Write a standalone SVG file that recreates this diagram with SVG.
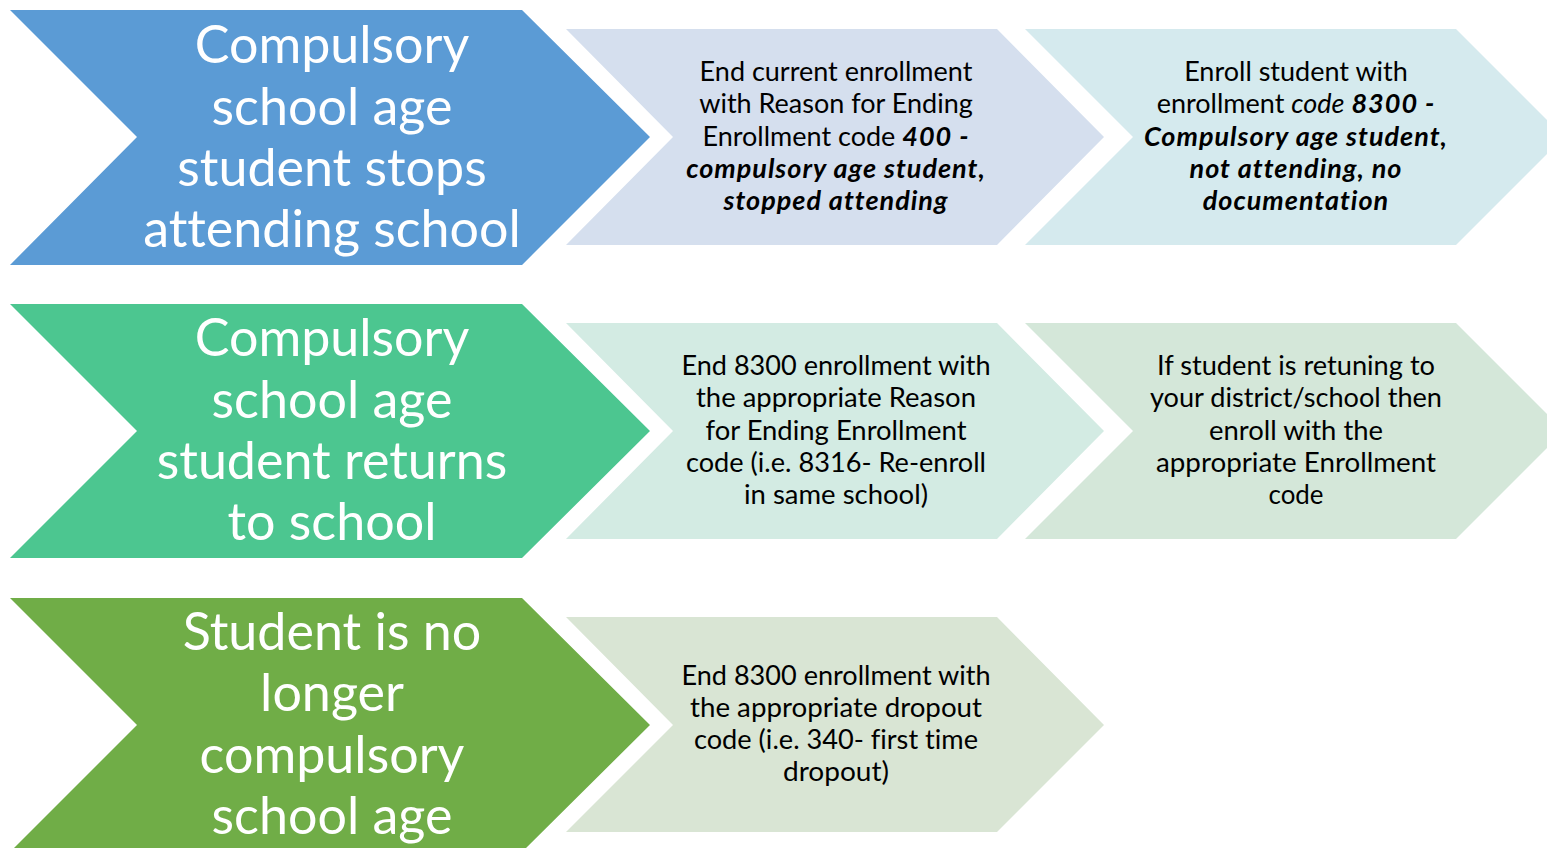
<svg xmlns="http://www.w3.org/2000/svg" width="1547" height="848" viewBox="0 0 1547 848">
<style>
text{font-variant-ligatures:none}
.big{font-family:Lato,"Open Sans","Liberation Sans",sans-serif;font-size:52px;fill:#ffffff;text-anchor:middle}
.sm{font-family:Lato,"Open Sans","Liberation Sans",sans-serif;font-size:27px;fill:#000000;text-anchor:middle}
.bi{font-weight:bold;font-style:italic;letter-spacing:1px}
.it{font-style:italic}
</style>
<rect width="1547" height="848" fill="#ffffff"/>
<g id="row1-start">
<polygon points="10,10 522,10 650,137 522,265 10,265 137,137" fill="#5B9BD5"/>
<text class="big"><tspan x="332" y="63">Compulsory</tspan><tspan x="332" y="125">school age</tspan><tspan x="332" y="186">student stops</tspan><tspan x="332" y="247">attending school</tspan></text>
</g>
<g id="row1-step1">
<polygon points="566,29 997,29 1104,137 997,245 566,245 673,137" fill="#D5DFEE"/>
<text class="sm"><tspan x="836" y="81">End current enrollment</tspan><tspan x="836" y="113">with Reason for Ending</tspan><tspan x="836" y="146">Enrollment code <tspan class="bi">400 -</tspan></tspan><tspan x="836" y="178" class="bi">compulsory age student,</tspan><tspan x="836" y="210" class="bi">stopped attending</tspan></text>
</g>
<g id="row1-step2">
<polygon points="1025,29 1456,29 1564,137 1456,245 1025,245 1133,137" fill="#D5EAEE"/>
<text class="sm"><tspan x="1296" y="81">Enroll student with</tspan><tspan x="1296" y="113">enrollment <tspan class="it">code</tspan> <tspan class="bi">8300 -</tspan></tspan><tspan x="1296" y="146" class="bi">Compulsory age student,</tspan><tspan x="1296" y="178" class="bi">not attending, no</tspan><tspan x="1296" y="210" class="bi">documentation</tspan></text>
</g>
<g id="row2-start">
<polygon points="10,304 522,304 650,431 522,558 10,558 137,431" fill="#4CC690"/>
<text class="big"><tspan x="332" y="356">Compulsory</tspan><tspan x="332" y="418">school age</tspan><tspan x="332" y="479">student returns</tspan><tspan x="332" y="540">to school</tspan></text>
</g>
<g id="row2-step1">
<polygon points="566,323 997,323 1104,431 997,539 566,539 673,431" fill="#D3EBE3"/>
<text class="sm"><tspan x="836" y="375" textLength="309" lengthAdjust="spacingAndGlyphs">End 8300 enrollment with</tspan><tspan x="836" y="407" textLength="280" lengthAdjust="spacingAndGlyphs">the appropriate Reason</tspan><tspan x="836" y="440" textLength="261" lengthAdjust="spacingAndGlyphs">for Ending Enrollment</tspan><tspan x="836" y="472" textLength="300" lengthAdjust="spacingAndGlyphs">code (i.e. 8316- Re-enroll</tspan><tspan x="836" y="504" textLength="184" lengthAdjust="spacingAndGlyphs">in same school)</tspan></text>
</g>
<g id="row2-step2">
<polygon points="1025,323 1456,323 1564,431 1456,539 1025,539 1133,431" fill="#D4E7D9"/>
<text class="sm"><tspan x="1296" y="375" textLength="278" lengthAdjust="spacingAndGlyphs">If student is retuning to</tspan><tspan x="1296" y="407" textLength="292" lengthAdjust="spacingAndGlyphs">your district/school then</tspan><tspan x="1296" y="440" textLength="174" lengthAdjust="spacingAndGlyphs">enroll with the</tspan><tspan x="1296" y="472" textLength="280" lengthAdjust="spacingAndGlyphs">appropriate Enrollment</tspan><tspan x="1296" y="504" textLength="55" lengthAdjust="spacingAndGlyphs">code</tspan></text>
</g>
<g id="row3-start">
<polygon points="10,598 522,598 650,725 522,852 10,852 137,725" fill="#70AD47"/>
<text class="big"><tspan x="332" y="650">Student is no</tspan><tspan x="332" y="711">longer</tspan><tspan x="332" y="773">compulsory</tspan><tspan x="332" y="834">school age</tspan></text>
</g>
<g id="row3-step1">
<polygon points="566,617 997,617 1104,725 997,832 566,832 673,725" fill="#D9E5D4"/>
<text class="sm"><tspan x="836" y="685" textLength="309" lengthAdjust="spacingAndGlyphs">End 8300 enrollment with</tspan><tspan x="836" y="717" textLength="292" lengthAdjust="spacingAndGlyphs">the appropriate dropout</tspan><tspan x="836" y="749" textLength="284" lengthAdjust="spacingAndGlyphs">code (i.e. 340- first time</tspan><tspan x="836" y="781" textLength="106" lengthAdjust="spacingAndGlyphs">dropout)</tspan></text>
</g>
</svg>
